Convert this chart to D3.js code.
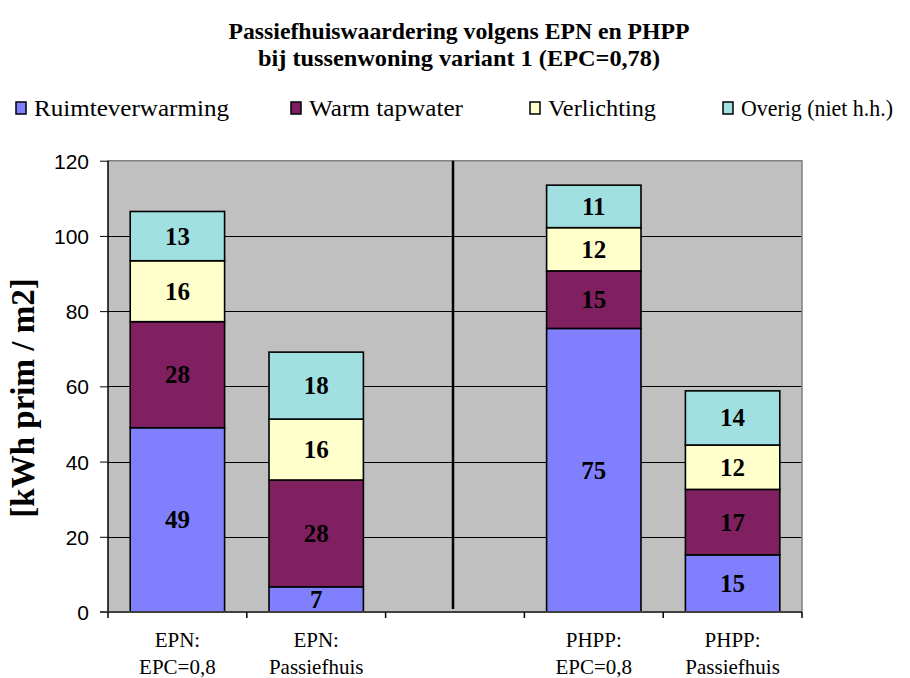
<!DOCTYPE html>
<html><head><meta charset="utf-8">
<script src="https://cdn.jsdelivr.net/npm/d3@7"></script>
<style>
body{margin:0;background:#fff;}
svg{display:block;}
</style></head>
<body>
<svg id="c" width="910" height="678"></svg>
<script>
// ---- data ----
const titleLines = ["Passiefhuiswaardering volgens EPN en PHPP", "bij tussenwoning variant 1 (EPC=0,78)"];
const yTitle = "[kWh prim / m2]";
const catLine1 = ["EPN:", "EPN:", "", "PHPP:", "PHPP:"];
const catLine2 = ["EPC=0,8", "Passiefhuis", "", "EPC=0,8", "Passiefhuis"];
const seriesNames = ["Ruimteverwarming", "Warm tapwater", "Verlichting", "Overig (niet h.h.)"];
const ruimteverwarming = [49.0, 6.7, null, 75.4, 15.2];
const warmTapwater     = [28.2, 28.4, null, 15.3, 17.4];
const verlichting      = [16.2, 16.2, null, 11.5, 11.8];
const overig           = [13.1, 17.8, null, 11.3, 14.4];
const yTicks = [0, 20, 40, 60, 80, 100, 120];
const colors = ["#8080FF", "#802060", "#FFFFCC", "#A0E0E0"];

const seriesValues = [ruimteverwarming, warmTapwater, verlichting, overig];
const svg = d3.select("#c");
const L = 108, R = 802, T = 160.7, B = 612;
const SERIF = "'Liberation Serif', 'Times New Roman', serif";
const SANS = "'Liberation Sans', Arial, sans-serif";

const x = d3.scaleBand().domain(d3.range(catLine1.length)).range([L, R]).paddingInner(0.32).paddingOuter(0.16);
const y = d3.scaleLinear().domain([0, 120]).range([B, T]);

function fitW(sel, w) { sel.attr("textLength", w).attr("lengthAdjust", "spacingAndGlyphs"); }

// plot background
svg.append("rect").attr("x", L).attr("y", T).attr("width", R - L).attr("height", B - T).attr("fill", "#C0C0C0");
// gridlines
svg.append("g").selectAll("line").data(yTicks.filter(d => d > 0 && d < 120)).join("line")
  .attr("x1", L).attr("x2", R).attr("y1", d => Math.round(y(d)) + 0.5).attr("y2", d => Math.round(y(d)) + 0.5)
  .attr("stroke", "#000").attr("stroke-width", 1);
// top & right border
svg.append("path").attr("d", `M${L},${T}H${R}V${B}`).attr("fill", "none").attr("stroke", "#808080").attr("stroke-width", 1.5);

// separator line (in the empty middle category)
const sepX = x(2) + x.bandwidth() / 2 - 2;
svg.append("line").attr("x1", sepX).attr("x2", sepX).attr("y1", T).attr("y2", B - 3)
  .attr("stroke", "#000").attr("stroke-width", 2.5);

// stacked bars
const rows = d3.range(catLine1.length).map(i => {
  const o = { i };
  seriesNames.forEach((s, k) => o[s] = seriesValues[k][i] == null ? 0 : seriesValues[k][i]);
  o.empty = seriesValues[0][i] == null;
  return o;
});
const stack = d3.stack().keys(seriesNames)(rows);
const barG = svg.append("g");
stack.forEach((layer, k) => {
  const g = barG.append("g");
  const segs = layer.filter(d => !d.data.empty);
  g.selectAll("rect").data(segs).join("rect")
    .attr("x", d => x(d.data.i)).attr("width", x.bandwidth())
    .attr("y", d => y(d[1])).attr("height", d => y(d[0]) - y(d[1]))
    .attr("fill", colors[k]).attr("stroke", "#000").attr("stroke-width", 1.6);
  g.selectAll("text").data(segs).join("text")
    .attr("x", d => x(d.data.i) + x.bandwidth() / 2)
    .attr("y", d => (y(d[0]) + y(d[1])) / 2 + 8.5)
    .attr("text-anchor", "middle")
    .attr("font-family", SERIF)
    .attr("font-weight", "bold").attr("font-size", 25)
    .text(d => d3.format(".0f")(d[1] - d[0]));
});

// y axis
const yAxis = svg.append("g").attr("transform", `translate(${L},0)`)
  .call(d3.axisLeft(y).tickValues(yTicks).tickSize(8).tickPadding(11).tickFormat(d3.format("d")));
yAxis.select(".domain").attr("stroke", "#000").attr("stroke-width", 1.5).attr("d", `M0,${T}V${B}`);
yAxis.selectAll(".tick line").attr("stroke", "#000");
yAxis.selectAll(".tick text").attr("font-family", SANS).attr("font-size", 21).attr("fill", "#000").attr("dy", "0.36em");

// x axis
const xAxisG = svg.append("g");
xAxisG.append("line").attr("x1", L - 8).attr("x2", R).attr("y1", B).attr("y2", B).attr("stroke", "#404040").attr("stroke-width", 2);
const bounds = d3.range(catLine1.length + 1).map(i => L + i * x.step());
xAxisG.selectAll("line.t").data(bounds).join("line").attr("class", "t")
  .attr("x1", d => d).attr("x2", d => d).attr("y1", B).attr("y2", B + 6).attr("stroke", "#000").attr("stroke-width", 1.5);
const cx = i => x(i) + x.bandwidth() / 2;
xAxisG.selectAll("text.l1").data(d3.range(catLine1.length).filter(i => catLine1[i])).join("text").attr("class", "l1")
  .attr("x", i => cx(i)).attr("y", 647).attr("text-anchor", "middle")
  .attr("font-family", SERIF).attr("font-size", 21).text(i => catLine1[i]);
xAxisG.selectAll("text.l2").data(d3.range(catLine2.length).filter(i => catLine2[i])).join("text").attr("class", "l2")
  .attr("x", i => cx(i)).attr("y", 674).attr("text-anchor", "middle")
  .attr("font-family", SERIF).attr("font-size", 21).text(i => catLine2[i]);

// y title
svg.append("text").attr("transform", "translate(34,398) rotate(-90)").attr("text-anchor", "middle")
  .attr("font-family", SERIF).attr("font-weight", "bold").attr("font-size", 33)
  .text(yTitle);

// title
const titleW = [461, 402];
titleLines.forEach((t, i) => {
  fitW(svg.append("text").attr("x", 459).attr("y", 39 + i * 27).attr("text-anchor", "middle")
    .attr("font-family", SERIF).attr("font-weight", "bold").attr("font-size", 24)
    .text(t), titleW[i]);
});

// legend
const legX = [16, 291, 530, 723];
const legTextW = [195, 154, 108, 152];
const lg = svg.append("g");
seriesNames.forEach((s, k) => {
  lg.append("rect").attr("x", legX[k]).attr("y", 102).attr("width", 10).attr("height", 12)
    .attr("fill", colors[k]).attr("stroke", "#000").attr("stroke-width", 1.5);
  fitW(lg.append("text").attr("x", legX[k] + 18).attr("y", 116)
    .attr("font-family", SERIF).attr("font-size", 24)
    .text(s), legTextW[k]);
});
</script>
</body></html>
